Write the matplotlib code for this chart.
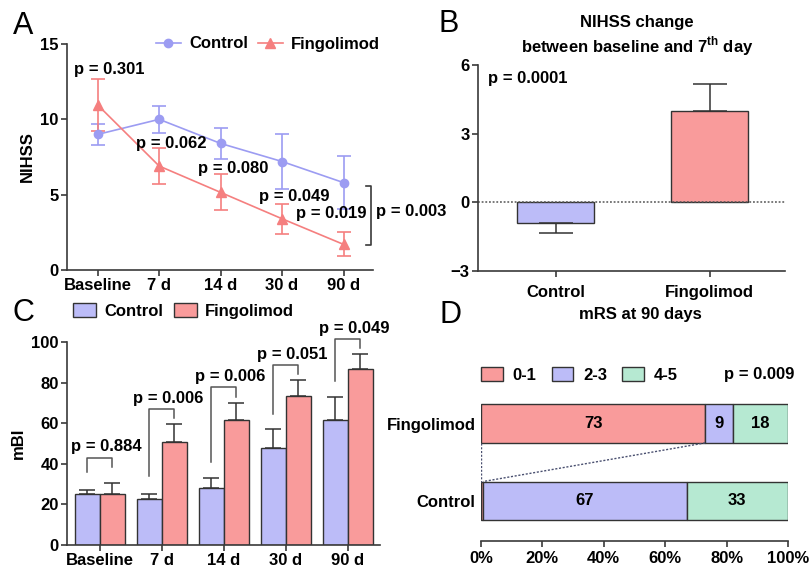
import matplotlib
matplotlib.use("Agg")
import matplotlib.pyplot as plt
from matplotlib.patches import Patch
from matplotlib.lines import Line2D
import numpy as np

plt.rcParams['font.family'] = ['Liberation Sans', 'DejaVu Sans']
plt.rcParams['font.weight'] = 'bold'
plt.rcParams['axes.labelweight'] = 'bold'
plt.rcParams['font.size'] = 12
plt.rcParams['mathtext.fontset'] = 'custom'
plt.rcParams['mathtext.rm'] = 'Liberation Sans:bold'
plt.rcParams['mathtext.bf'] = 'Liberation Sans:bold'

# ---------------- data ----------------
timepoints = ["Baseline", "7 d", "14 d", "30 d", "90 d"]
nihss_ctrl = [9.0, 10.0, 8.4, 7.2, 5.8]
nihss_ctrl_err = [0.7, 0.9, 1.0, 1.8, 1.75]
nihss_fing = [10.95, 6.9, 5.15, 3.4, 1.7]
nihss_fing_err = [1.75, 1.2, 1.2, 1.0, 0.8]
nihss_p = ["p = 0.301", "p = 0.062", "p = 0.080", "p = 0.049", "p = 0.019"]
nihss_p_overall = "p = 0.003"

groups = ["Control", "Fingolimod"]
change = [-0.92, 3.97]
change_err = [0.43, 1.18]
change_p = "p = 0.0001"

mbi_ctrl = [25.0, 22.7, 28.1, 47.8, 61.6]
mbi_ctrl_err = [2.1, 2.6, 5.1, 9.3, 11.5]
mbi_fing = [25.3, 50.7, 61.6, 73.6, 86.5]
mbi_fing_err = [5.2, 8.9, 8.5, 7.5, 7.6]
mbi_p = ["p = 0.884", "p = 0.006", "p = 0.006", "p = 0.051", "p = 0.049"]

mrs_cats = ["0-1", "2-3", "4-5"]
mrs_fing = [73, 9, 18]
mrs_ctrl = [0.7, 66.3, 33.0]
mrs_fing_lbl = ["73", "9", "18"]
mrs_ctrl_lbl = ["", "67", "33"]
mrs_p = "p = 0.009"

# ---------------- style ----------------
C_LINE = "#9c9cf2"
F_LINE = "#f57f7f"
C_BAR = "#bcbcf8"
F_BAR = "#f99b9b"
M_BAR = "#b6e9d2"
EDGE = "#333333"
SPINE = "#3a3a3a"

W, H = 810, 567
fig = plt.figure(figsize=(W / 100, H / 100), dpi=100)


def rect(l, t, r, b):
    return [l / W, 1 - b / H, (r - l) / W, (b - t) / H]


def fx(px):
    return px / W


def fy(py):
    return 1 - py / H


def style_ax(ax, left=True):
    for s in ["top", "right"]:
        ax.spines[s].set_visible(False)
    ax.spines["bottom"].set_color(SPINE)
    ax.spines["left"].set_color(SPINE)
    ax.spines["bottom"].set_linewidth(1.2)
    ax.spines["left"].set_linewidth(1.2)
    if not left:
        ax.spines["left"].set_visible(False)
    ax.tick_params(direction="out", length=4, width=1.2, color=SPINE, labelsize=12, pad=2)


# panel letters
for letter, (px, py) in zip("ABCD", [(23, 26), (449, 24), (23, 313), (450, 315)]):
    fig.text(fx(px), fy(py), letter, fontsize=22, fontweight="normal", ha="center", va="center")

# ---------------- Panel A ----------------
axA = fig.add_axes(rect(67, 44, 373, 270))
xA = np.arange(len(timepoints))
axA.errorbar(xA, nihss_ctrl, yerr=nihss_ctrl_err, color=C_LINE, marker="o", ms=6,
             lw=1.2, capsize=5, elinewidth=1.2, capthick=1.2, label="Control")
axA.errorbar(xA, nihss_fing, yerr=nihss_fing_err, color=F_LINE, marker="^", ms=7,
             lw=1.2, capsize=5, elinewidth=1.2, capthick=1.2, label="Fingolimod")
axA.set_xlim(-0.5, 4.48)
axA.set_ylim(0, 15)
axA.set_yticks([0, 5, 10, 15])
axA.set_xticks(xA)
axA.set_xticklabels(timepoints)
axA.set_ylabel("NIHSS", fontsize=12, labelpad=4)
style_ax(axA)
p_pos = [(0.18, 13.3), (1.2, 8.4), (2.2, 6.75), (3.2, 4.85), (3.8, 3.75)]
for (x, y), t in zip(p_pos, nihss_p):
    axA.text(x, y, t, ha="center", va="center", fontsize=12)
# overall bracket
axA.plot([4.36, 4.44, 4.44, 4.36], [5.57, 5.57, 1.66, 1.66], color=SPINE, lw=1.2, clip_on=False)
axA.text(4.53, 3.85, nihss_p_overall, ha="left", va="center", fontsize=12, clip_on=False)
hA = [Line2D([], [], color=C_LINE, marker="o", ms=6, lw=1.2),
      Line2D([], [], color=F_LINE, marker="^", ms=7, lw=1.2)]
fig.legend(hA, ["Control", "Fingolimod"], loc="center", bbox_to_anchor=(fx(268), fy(44)),
           ncol=2, frameon=False, fontsize=12, handlelength=1.5, handletextpad=0.5,
           columnspacing=0.6, borderpad=0)

# ---------------- Panel B ----------------
axB = fig.add_axes(rect(478, 65, 785, 271))
xB = np.arange(len(groups))
axB.bar(xB, change, width=0.5, color=[C_BAR, F_BAR], edgecolor=EDGE, linewidth=1)
for x, v, e in zip(xB, change, change_err):
    sgn = 1 if v >= 0 else -1
    axB.errorbar([x], [v], yerr=[[0], [e]] if sgn > 0 else [[e], [0]], color=EDGE,
                 capsize=12, elinewidth=1.1, capthick=1.1, fmt="none")
axB.axhline(0, color="#555555", lw=1.1, ls=(0, (1.2, 1.2)))
axB.set_xlim(-0.506, 1.49)
axB.set_ylim(-3, 6)
axB.set_yticks([-3, 0, 3, 6])
axB.set_xticks(xB)
axB.set_xticklabels(groups)
style_ax(axB)
axB.tick_params(axis="x", pad=6)
axB.text(-0.44, 5.4, change_p, ha="left", va="center", fontsize=12)
fig.text(fx(637), fy(23), "NIHSS change", ha="center", va="center", fontsize=12)
fig.text(fx(637), fy(46), "between baseline and 7$^{\\mathrm{th}}$ day",
         ha="center", va="center", fontsize=12)

# ---------------- Panel C ----------------
axC = fig.add_axes(rect(67, 342, 380, 545))
xC = np.arange(len(timepoints))
bw = 0.4
axC.bar(xC - bw / 2, mbi_ctrl, width=bw, color=C_BAR, edgecolor=EDGE, linewidth=1)
axC.bar(xC + bw / 2, mbi_fing, width=bw, color=F_BAR, edgecolor=EDGE, linewidth=1)
axC.errorbar(xC - bw / 2, mbi_ctrl, yerr=[np.zeros(5), mbi_ctrl_err], fmt="none",
             color=EDGE, capsize=6, elinewidth=1.1, capthick=1.1)
axC.errorbar(xC + bw / 2, mbi_fing, yerr=[np.zeros(5), mbi_fing_err], fmt="none",
             color=EDGE, capsize=6, elinewidth=1.1, capthick=1.1)
axC.set_xlim(-0.53, 4.52)
axC.set_ylim(0, 100)
axC.set_yticks([0, 20, 40, 60, 80, 100])
axC.set_xticks(xC)
axC.set_xticklabels(timepoints)
axC.set_ylabel("mBI", fontsize=12, labelpad=4)
style_ax(axC)
for i in range(5):
    c_top = mbi_ctrl[i] + mbi_ctrl_err[i]
    f_top = mbi_fing[i] + mbi_fing_err[i]
    if i == 0:
        lb, rb = 36.0, 38.6
    else:
        lb, rb = c_top + 7.5 + (i == 1) * 1, f_top + 3
    top = rb + 4.5
    axC.plot([i - bw / 2, i - bw / 2, i + bw / 2, i + bw / 2], [lb, top, top, rb],
             color="#555555", lw=1.1, clip_on=False)
    axC.text(i + 0.1, top + 1.5, mbi_p[i], ha="center", va="bottom", fontsize=12, clip_on=False)
hC = [Patch(facecolor=C_BAR, edgecolor=EDGE, lw=1), Patch(facecolor=F_BAR, edgecolor=EDGE, lw=1)]
fig.legend(hC, ["Control", "Fingolimod"], loc="center left", bbox_to_anchor=(fx(73), fy(311)),
           ncol=2, frameon=False, fontsize=12, handlelength=1.4, handleheight=0.9,
           handletextpad=0.5, columnspacing=0.6, borderpad=0, borderaxespad=0)

# ---------------- Panel D ----------------
axD = fig.add_axes(rect(481, 385, 788, 541))
yD = [1, 0]
rows = [mrs_fing, mrs_ctrl]
lbls = [mrs_fing_lbl, mrs_ctrl_lbl]
cols = [F_BAR, C_BAR, M_BAR]
for y, vals, lab in zip(yD, rows, lbls):
    left = 0
    for v, c, t in zip(vals, cols, lab):
        axD.barh(y, v, left=left, height=0.5, color=c, edgecolor=EDGE, linewidth=1)
        if t:
            axD.text(left + v / 2, y, t, ha="center", va="center", fontsize=12)
        left += v
# connecting dotted lines
axD.plot([0, 0], [0.75, 0.25], color="#4a5070", lw=1, ls=(0, (1.5, 1.2)))
axD.plot([mrs_fing[0], mrs_ctrl[0]], [0.75, 0.25], color="#4a5070", lw=1, ls=(0, (1.5, 1.2)))
axD.set_xlim(0, 100)
axD.set_ylim(-0.52, 1.5)
axD.set_xticks([0, 20, 40, 60, 80, 100])
axD.set_xticklabels([f"{v}%" for v in [0, 20, 40, 60, 80, 100]])
axD.set_yticks(yD)
axD.set_yticklabels(groups[::-1])
style_ax(axD, left=False)
axD.tick_params(axis="y", length=0, pad=4)
axD.tick_params(axis="x", pad=3)
fig.text(fx(640), fy(315), "mRS at 90 days", ha="center", va="center", fontsize=12)
hD = [Patch(facecolor=c, edgecolor=EDGE, lw=1) for c in cols]
fig.legend(hD, mrs_cats, loc="center left", bbox_to_anchor=(fx(481), fy(375)),
           ncol=3, frameon=False, fontsize=12, handlelength=1.3, handleheight=0.9,
           handletextpad=0.6, columnspacing=0.9, borderpad=0, borderaxespad=0)
fig.text(fx(794), fy(375), mrs_p, ha="right", va="center", fontsize=12)

fig.savefig("out.png", dpi=100)
